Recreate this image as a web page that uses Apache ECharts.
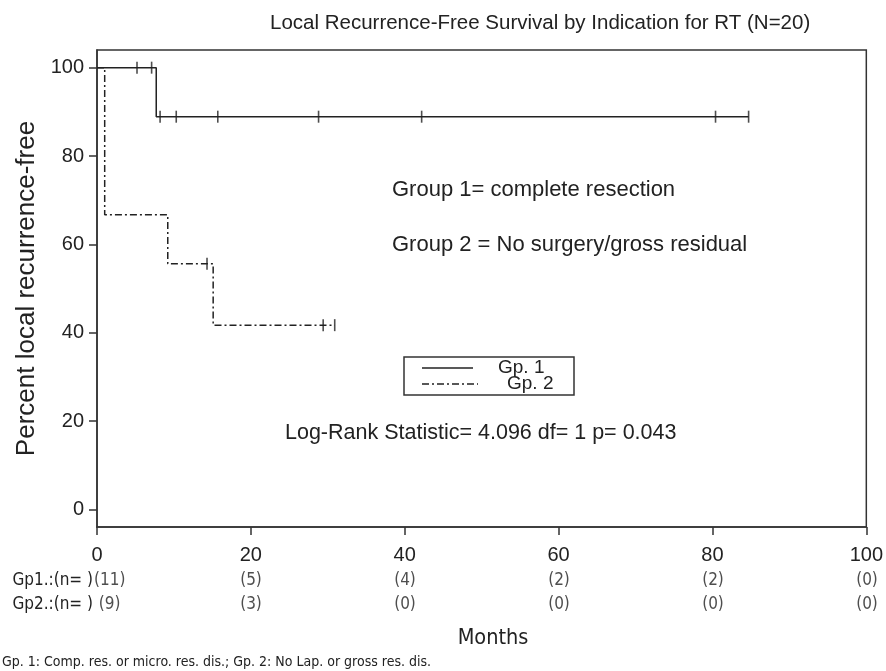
<!DOCTYPE html>
<html><head><meta charset="utf-8">
<script src="https://cdn.jsdelivr.net/npm/echarts@6/dist/echarts.min.js"></script>
<style>html,body{margin:0;padding:0;background:#fff}#c{width:886px;height:671px}</style>
</head><body><div id="c"></div>
<script>
// ---- data ----
const xTicks = [0, 20, 40, 60, 80, 100];
const yTicks = [0, 20, 40, 60, 80, 100];
const gp1Curve = [[0,100],[7.7,100],[7.7,88.9],[84.7,88.9]];
const gp1Censor = [[5.2,100],[7.1,100],[8.2,88.9],[10.3,88.9],[15.7,88.9],[28.8,88.9],[42.2,88.9],[80.4,88.9],[84.7,88.9]];
const gp2Curve = [[0,100],[1.0,100],[1.0,66.7],[9.2,66.7],[9.2,55.6],[15.1,55.6],[15.1,41.7],[30.9,41.7]];
const gp2Censor = [[14.3,55.6],[29.4,41.7],[30.9,41.7]];
const riskRows = ['Gp1.:(n= )', 'Gp2.:(n= )'];
const gp1AtRisk = [11, 5, 4, 2, 2, 0];
const gp2AtRisk = [9, 3, 0, 0, 0, 0];

const INK = '#222';
const F = 'Liberation Sans, Arial, sans-serif';
const FN = '"Liberation Sans Narrow", "DejaVu Sans Condensed", Arial, sans-serif';
const DASHDOT = [7, 3, 2, 3];

const riskData = [];
xTicks.forEach((x, i) => {
  riskData.push({value: [x, 'Gp1'], txt: '(' + gp1AtRisk[i] + ')', first: i === 0});
  riskData.push({value: [x, 'Gp2'], txt: (i === 0 ? ' ' : '') + '(' + gp2AtRisk[i] + ')', first: i === 0});
});

const chart = echarts.init(document.getElementById('c'), null, {renderer: 'canvas'});
chart.setOption({
  animation: false,
  backgroundColor: '#fff',
  title: {
    text: 'Local Recurrence-Free Survival by Indication for RT (N=20)',
    left: 265, top: 8,
    textStyle: {fontFamily: F, fontSize: 20.5, fontWeight: 'normal', color: INK}
  },
  grid: [
    {left: 97, right: 19, top: 50, bottom: 144, show: true, borderColor: '#333', borderWidth: 1.5, backgroundColor: 'transparent'},
    {left: 97, right: 19, top: 569, height: 48}
  ],
  xAxis: [
    {
      gridIndex: 0, type: 'value', min: 0, max: 100, interval: 20,
      axisLine: {show: true, onZero: false, lineStyle: {color: '#333', width: 1.5}},
      axisTick: {show: true, length: 8, lineStyle: {color: '#333', width: 1.5}},
      axisLabel: {fontFamily: F, fontSize: 20, color: INK, margin: 18},
      splitLine: {show: false}
    },
    {gridIndex: 1, type: 'value', min: 0, max: 100, show: false}
  ],
  yAxis: [
    {
      gridIndex: 0, type: 'value', min: -4, max: 104,
      name: 'Percent local recurrence-free', nameLocation: 'middle', nameGap: 55,
      nameTextStyle: {fontFamily: F, fontSize: 26, color: INK},
      axisLine: {show: true, onZero: false, lineStyle: {color: '#333', width: 1.5}},
      axisTick: {show: true, length: 8, customValues: yTicks, lineStyle: {color: '#333', width: 1.5}},
      axisLabel: {fontFamily: F, fontSize: 20, color: INK, margin: 13, customValues: yTicks},
      splitLine: {show: false}
    },
    {
      gridIndex: 1, type: 'category', data: ['Gp1', 'Gp2'], inverse: true,
      axisLine: {show: false}, axisTick: {show: false}, splitLine: {show: false},
      axisLabel: {margin: 4, fontFamily: FN, fontSize: 17, color: INK,
        formatter: v => v === 'Gp1' ? riskRows[0] : riskRows[1]}
    }
  ],
  series: [
    {type: 'line', name: 'Gp. 1', data: gp1Curve, showSymbol: false, symbol: 'none',
     lineStyle: {color: INK, width: 1.5, type: 'solid'}, z: 3},
    {type: 'line', name: 'Gp. 2', data: gp2Curve, showSymbol: false, symbol: 'none',
     lineStyle: {color: INK, width: 1.5, type: DASHDOT}, z: 3},
    {type: 'scatter', data: gp1Censor, symbol: 'rect', symbolSize: [1.6, 12],
     itemStyle: {color: INK}, z: 4},
    {type: 'scatter', data: gp2Censor, symbol: 'rect', symbolSize: [1.6, 12],
     itemStyle: {color: INK}, z: 4},
    {type: 'scatter', xAxisIndex: 1, yAxisIndex: 1, symbolSize: 0,
     data: riskData.map(d => ({value: d.value, label: {
       show: true, position: d.first ? 'right' : 'inside', distance: -3,
       formatter: d.txt, fontFamily: FN, fontSize: 17, color: INK}}))}
  ],
  graphic: [
    {type: 'text', x: 392, y: 190, style: {text: 'Group 1= complete resection', font: '22px ' + F, fill: INK, verticalAlign: 'middle'}},
    {type: 'text', x: 392, y: 245, style: {text: 'Group 2 = No surgery/gross residual', font: '22px ' + F, fill: INK, verticalAlign: 'middle'}},
    {type: 'rect', shape: {x: 404, y: 357, width: 170, height: 38}, style: {fill: '#fff', stroke: '#333', lineWidth: 1.5}, z: 10},
    {type: 'line', shape: {x1: 422, y1: 368, x2: 473, y2: 368}, style: {stroke: INK, lineWidth: 1.5}, z: 11},
    {type: 'line', shape: {x1: 422, y1: 384, x2: 478, y2: 384}, style: {stroke: INK, lineWidth: 1.5, lineDash: DASHDOT}, z: 11},
    {type: 'text', x: 498, y: 368, style: {text: 'Gp. 1', font: '19px ' + F, fill: INK, verticalAlign: 'middle'}, z: 11},
    {type: 'text', x: 507, y: 384, style: {text: 'Gp. 2', font: '19px ' + F, fill: INK, verticalAlign: 'middle'}, z: 11},
    {type: 'text', x: 285, y: 433, style: {text: 'Log-Rank Statistic= 4.096 df= 1 p= 0.043', font: '21.5px ' + F, fill: INK, verticalAlign: 'middle'}},
    {type: 'text', x: 493, y: 638, style: {text: 'Months', font: '21.5px ' + FN, fill: INK, align: 'center', verticalAlign: 'middle'}},
    {type: 'text', x: 2, y: 662, style: {text: 'Gp. 1: Comp. res. or micro. res. dis.; Gp. 2: No Lap. or gross res. dis.', font: '14px ' + FN, fill: INK, verticalAlign: 'middle'}}
  ]
});
</script>
</body></html>
